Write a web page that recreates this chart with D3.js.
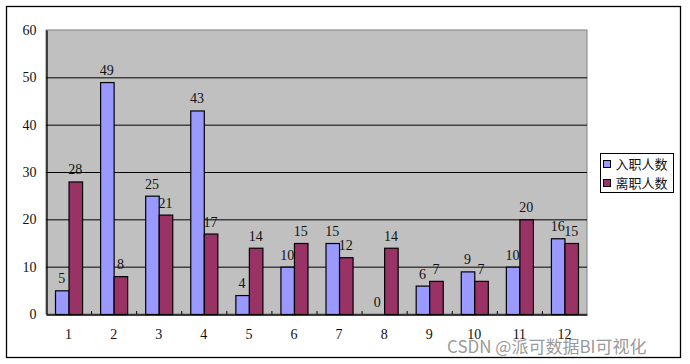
<!DOCTYPE html>
<html>
<head>
<meta charset="utf-8">
<script src="https://cdn.jsdelivr.net/npm/d3@7"></script>
<style>
  body { margin: 0; background: #fff; }
  svg { display: block; }
</style>
</head>
<body>
<svg id="graph" width="690" height="364"></svg>
<script>
(function() {
    var months = ["1", "2", "3", "4", "5", "6", "7", "8", "9", "10", "11", "12"];
    var hired = [5, 49, 25, 43, 4, 10, 15, 0, 6, 9, 10, 16];
    var left = [28, 8, 21, 17, 14, 15, 12, 14, 7, 7, 20, 15];
    var seriesNames = ["入职人数", "离职人数"];
    var yTicks = [0, 10, 20, 30, 40, 50, 60];

    var colors = ["#9999ff", "#993366"];
    var numFont = "'Liberation Serif', 'DejaVu Serif', serif";
    var cjkFont = "'Noto Sans CJK SC', sans-serif";

    var svg = d3.select("#graph");
    var margin = { top: 30, right: 103, bottom: 50, left: 46 };
    var width = 690, height = 364;

    // outer frame
    svg.append("rect")
        .attr("x", 6.5).attr("y", 6.5)
        .attr("width", 674).attr("height", 351)
        .attr("fill", "#fff").attr("stroke", "#000").attr("stroke-width", 1.3);

    var x0 = d3.scaleBand()
        .domain(months)
        .range([margin.left, width - margin.right])
        .paddingInner(0.4)
        .paddingOuter(0.2);

    var x1 = d3.scaleBand()
        .domain([0, 1])
        .range([0, x0.bandwidth()]);

    var y = d3.scaleLinear()
        .domain([0, 60])
        .range([height - margin.bottom, margin.top]);

    // plot area
    svg.append("rect")
        .attr("x", margin.left).attr("y", margin.top)
        .attr("width", width - margin.right - margin.left)
        .attr("height", y(0) - margin.top)
        .attr("fill", "#c0c0c0").attr("stroke", "#808080");

    // gridlines
    svg.append("g")
        .selectAll("line")
        .data(yTicks.slice(1, -1))
        .join("line")
        .attr("x1", margin.left).attr("x2", width - margin.right)
        .attr("y1", d => y(d) + 0.5).attr("y2", d => y(d) + 0.5)
        .attr("stroke", "#000");

    // bars
    var group = svg.append("g")
        .selectAll("g")
        .data(months)
        .join("g")
        .attr("transform", d => `translate(${x0(d)},0)`);

    group.selectAll("rect")
        .data((d, i) => [hired[i], left[i]])
        .join("rect")
        .attr("x", (d, j) => x1(j) + 0.5)
        .attr("y", d => y(d) + 0.5)
        .attr("width", x1.bandwidth())
        .attr("height", d => y(0) - y(d))
        .attr("fill", (d, j) => colors[j])
        .attr("stroke", "#000")
        .attr("stroke-width", 1.2)
        .attr("display", d => d === 0 ? "none" : null);

    group.selectAll("text")
        .data((d, i) => [hired[i], left[i]])
        .join("text")
        .attr("x", (d, j) => x1(j) + x1.bandwidth() / 2)
        .attr("y", d => y(d) - 7)
        .attr("text-anchor", "middle")
        .attr("font-family", numFont)
        .attr("font-size", 14)
        .attr("fill", "#111")
        .text(d => d);

    // x axis
    var xAxis = g => g
        .attr("transform", `translate(0,${y(0) + 0.5})`)
        .call(d3.axisBottom(x0).tickSize(0).tickPadding(15))
        .call(g => g.select(".domain").attr("stroke", "#000").attr("stroke-width", 1.5))
        .call(g => g.selectAll(".tick text")
            .attr("font-family", numFont).attr("font-size", 14).attr("fill", "#111"));

    svg.append("g").call(xAxis);

    // category boundary ticks
    svg.append("g")
        .selectAll("line")
        .data(months.slice(1))
        .join("line")
        .attr("x1", d => x0(d) - x0.step() * x0.paddingInner() / 2 + 0.5)
        .attr("x2", d => x0(d) - x0.step() * x0.paddingInner() / 2 + 0.5)
        .attr("y1", y(0) - 3).attr("y2", y(0))
        .attr("stroke", "#000");

    // y axis
    var yAxis = g => g
        .attr("transform", `translate(${margin.left + 0.5},0)`)
        .call(d3.axisLeft(y).tickValues(yTicks).tickSize(0).tickPadding(10))
        .call(g => g.select(".domain").attr("stroke", "#000").attr("stroke-width", 1.3))
        .call(g => g.selectAll(".tick text")
            .attr("font-family", numFont).attr("font-size", 14).attr("fill", "#111"));

    svg.append("g").call(yAxis);

    // legend
    var legend = svg.append("g").attr("transform", "translate(600.5,153.5)");
    legend.append("rect")
        .attr("width", 73).attr("height", 39)
        .attr("fill", "#fff").attr("stroke", "#000");
    var item = legend.selectAll("g")
        .data(seriesNames)
        .join("g")
        .attr("transform", (d, i) => `translate(3,${7 + i * 19})`);
    item.append("rect")
        .attr("width", 7).attr("height", 7)
        .attr("fill", (d, i) => colors[i]).attr("stroke", "#000");
    item.append("text")
        .attr("x", 12).attr("y", 8)
        .attr("font-family", cjkFont)
        .attr("font-size", 13)
        .attr("fill", "#111")
        .text(d => d);

    // watermark
    svg.append("text")
        .attr("x", 447).attr("y", 353)
        .attr("font-family", cjkFont)
        .attr("font-size", 17)
        .attr("fill", "#8c8c8c")
        .attr("fill-opacity", 0.9)
        .text("CSDN @派可数据BI可视化");
})();
</script>
</body>
</html>
